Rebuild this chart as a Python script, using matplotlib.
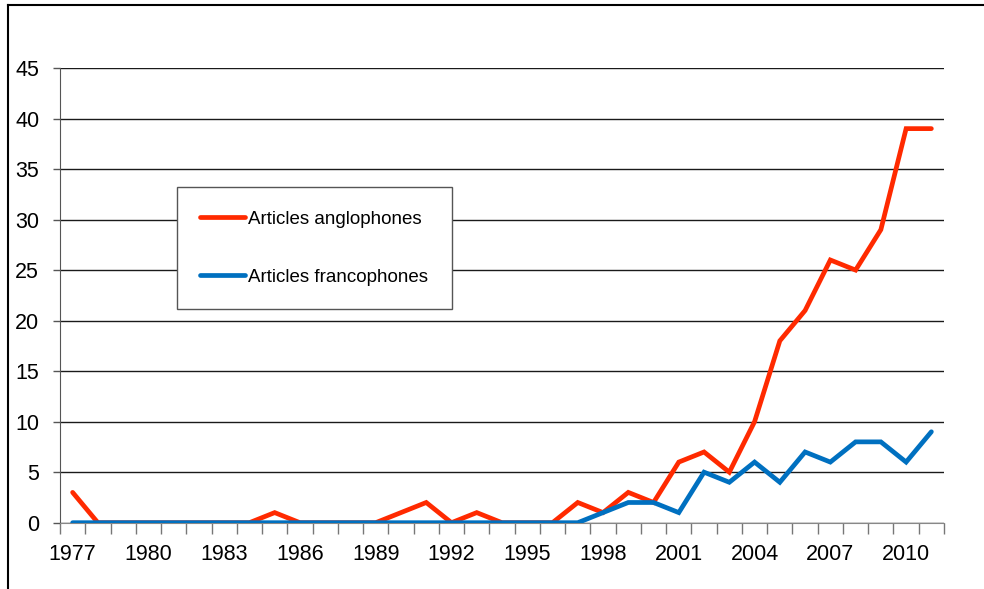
import numpy as np
import matplotlib
matplotlib.use("Agg")
import matplotlib.pyplot as plt
from matplotlib.lines import Line2D

plt.rcParams['font.family'] = ['Liberation Sans', 'DejaVu Sans']

years = list(range(1977, 2012))
anglophones = [3, 0, 0, 0, 0, 0, 0, 0, 1, 0, 0, 0, 0, 1, 2, 0, 1, 0, 0, 0,
               2, 1, 3, 2, 6, 7, 5, 10, 18, 21, 26, 25, 29, 39, 39]
francophones = [0, 0, 0, 0, 0, 0, 0, 0, 0, 0, 0, 0, 0, 0, 0, 0, 0, 0, 0, 0,
                0, 1, 2, 2, 1, 5, 4, 6, 4, 7, 6, 8, 8, 6, 9]
labels = ["Articles anglophones", "Articles francophones"]
year_labels = list(range(1977, 2012, 3))

fig = plt.figure(figsize=(9.84, 5.89), dpi=100)
ax = fig.add_axes([60/984, 1-522.7/589, (944-60)/984, (522.7-68)/589])

ax.plot(years, anglophones, color='#FF2A00', lw=3.4, label=labels[0],
        solid_capstyle='round', solid_joinstyle='miter', zorder=3)
ax.plot(years, francophones, color='#0070C0', lw=3.4, label=labels[1],
        solid_capstyle='round', solid_joinstyle='miter', zorder=4)

ax.set_xlim(years[0] - 0.5, years[-1] + 0.5)
ax.set_ylim(0, 45)
ax.set_yticks(range(0, 46, 5))
ax.yaxis.grid(True, color='#1a1a1a', lw=1)
ax.set_axisbelow(True)

# category boundary ticks, labels every 3 years
ax.set_xticks(np.arange(years[0] - 0.5, years[-1] + 1), minor=True)
ax.set_xticks(year_labels)
ax.set_xticklabels([str(y) for y in year_labels])
ax.tick_params(axis='x', which='major', length=0, pad=15, labelsize=15.5)
ax.tick_params(axis='x', which='minor', length=8, width=1, color='#777777')
ax.tick_params(axis='y', length=5, width=1, color='#555555', pad=10, labelsize=15.5)

for s in ['top', 'right']:
    ax.spines[s].set_visible(False)
ax.spines['left'].set_color('#555555')
ax.spines['bottom'].set_color('#888888')

leg = ax.legend(loc='upper left', bbox_to_anchor=(177/984, 1-187/589),
                bbox_transform=fig.transFigure, fontsize=13.5,
                handlelength=2.4, handletextpad=0.15, labelspacing=2.2,
                borderpad=1.25, borderaxespad=0, fancybox=False, framealpha=1)
leg.get_frame().set_edgecolor('#555555')
leg.get_frame().set_linewidth(1)

# outer frame of the screenshot
fig.add_artist(Line2D([8/984, 8/984], [0, 1-5/589], color='black', lw=1.5,
                      transform=fig.transFigure))
fig.add_artist(Line2D([8/984, 1], [1-5/589, 1-5/589], color='black', lw=1.5,
                      transform=fig.transFigure))

fig.savefig("out.png", dpi=100)
